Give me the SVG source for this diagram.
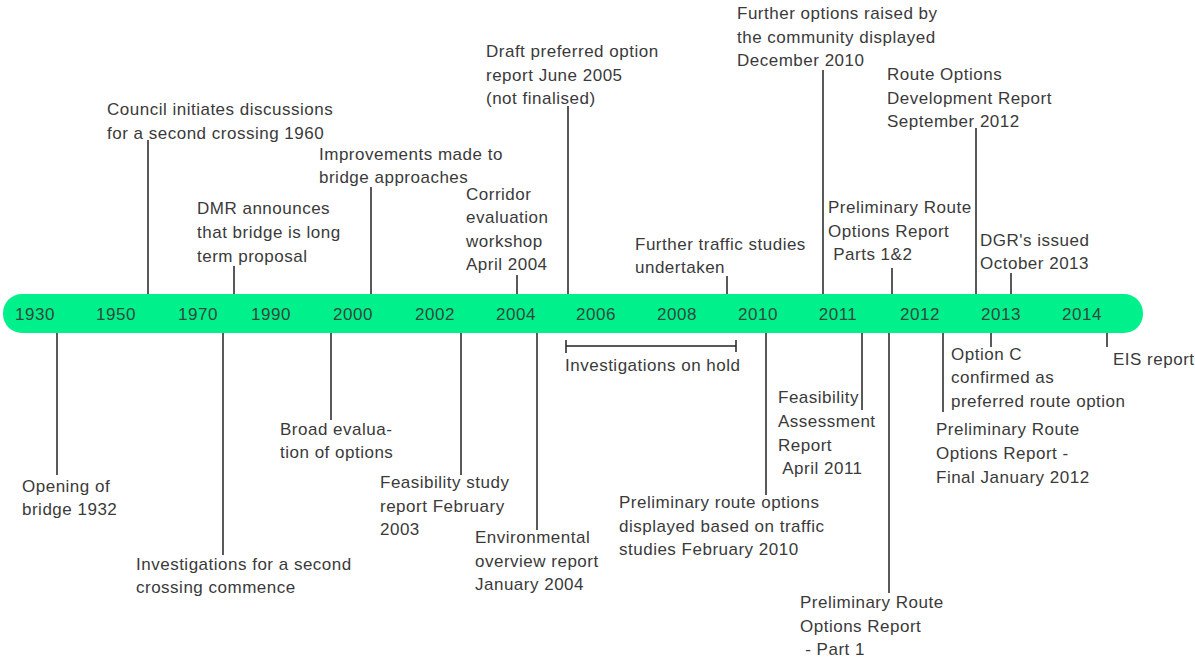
<svg xmlns="http://www.w3.org/2000/svg" width="1195" height="661" viewBox="0 0 1195 661">
<style>
text{font-family:"Liberation Sans",Arial,sans-serif;font-size:17px;letter-spacing:0.5px;fill:#3a3a3a}
.yr{fill:#2f4a3c}
.c line{stroke:#222;stroke-width:1.5}
</style>
<rect width="1195" height="661" fill="#fff"/>
<g id="timeline">
<rect x="3" y="294" width="1140" height="39" rx="19" fill="#00f08c"/>
<g class="yr-labels" text-anchor="middle">
<text class="yr" x="35" y="320">1930</text>
<text class="yr" x="116" y="320">1950</text>
<text class="yr" x="198" y="320">1970</text>
<text class="yr" x="271" y="320">1990</text>
<text class="yr" x="353" y="320">2000</text>
<text class="yr" x="435" y="320">2002</text>
<text class="yr" x="516" y="320">2004</text>
<text class="yr" x="596" y="320">2006</text>
<text class="yr" x="677" y="320">2008</text>
<text class="yr" x="758" y="320">2010</text>
<text class="yr" x="838" y="320">2011</text>
<text class="yr" x="920" y="320">2012</text>
<text class="yr" x="1001" y="320">2013</text>
<text class="yr" x="1082" y="320">2014</text>
</g>
</g>
<g id="connectors" class="c">
<line x1="148" y1="140" x2="148" y2="294"/>
<line x1="234" y1="266" x2="234" y2="294"/>
<line x1="371" y1="187" x2="371" y2="294"/>
<line x1="517" y1="275" x2="517" y2="294"/>
<line x1="568" y1="106" x2="568" y2="294"/>
<line x1="727" y1="276" x2="727" y2="294"/>
<line x1="823" y1="70" x2="823" y2="294"/>
<line x1="976" y1="128" x2="976" y2="294"/>
<line x1="892" y1="268" x2="892" y2="294"/>
<line x1="1011" y1="273" x2="1011" y2="294"/>
<line x1="57" y1="333" x2="57" y2="475"/>
<line x1="223" y1="333" x2="223" y2="555"/>
<line x1="331" y1="333" x2="331" y2="420"/>
<line x1="461" y1="333" x2="461" y2="475"/>
<line x1="537" y1="333" x2="537" y2="530"/>
<line x1="766" y1="333" x2="766" y2="495"/>
<line x1="862" y1="333" x2="862" y2="410"/>
<line x1="889" y1="333" x2="889" y2="593"/>
<line x1="943" y1="333" x2="943" y2="412"/>
<line x1="991" y1="333" x2="991" y2="347"/>
<line x1="1107" y1="333" x2="1107" y2="347"/>
<line x1="566" y1="346" x2="736" y2="346"/>
<line x1="566" y1="340" x2="566" y2="353"/>
<line x1="736" y1="340" x2="736" y2="352"/>
</g>
<g id="ev-council"><text x="107" y="115">Council initiates discussions</text><text x="107" y="139">for a second crossing 1960</text></g>
<g id="ev-dmr"><text x="197" y="214">DMR announces</text><text x="197" y="238">that bridge is long</text><text x="197" y="262">term proposal</text></g>
<g id="ev-improvements"><text x="319" y="160">Improvements made to</text><text x="319" y="183">bridge approaches</text></g>
<g id="ev-corridor"><text x="466" y="200">Corridor</text><text x="466" y="223">evaluation</text><text x="466" y="247">workshop</text><text x="466" y="270">April 2004</text></g>
<g id="ev-draft"><text x="486" y="57">Draft preferred option</text><text x="486" y="81">report June 2005</text><text x="486" y="104">(not finalised)</text></g>
<g id="ev-traffic"><text x="635" y="250">Further traffic studies</text><text x="635" y="273">undertaken</text></g>
<g id="ev-further-options"><text x="737" y="19">Further options raised by</text><text x="737" y="43">the community displayed</text><text x="737" y="66">December 2010</text></g>
<g id="ev-route-dev"><text x="887" y="80">Route Options</text><text x="887" y="104">Development Report</text><text x="887" y="127">September 2012</text></g>
<g id="ev-prelim-parts"><text x="828" y="213">Preliminary Route</text><text x="828" y="237">Options Report</text><text x="828" y="260" xml:space="preserve"> Parts 1&amp;2</text></g>
<g id="ev-dgr"><text x="980" y="246">DGR's issued</text><text x="980" y="269">October 2013</text></g>
<g id="ev-opening"><text x="22" y="492">Opening of</text><text x="22" y="515">bridge 1932</text></g>
<g id="ev-investigations"><text x="136" y="570">Investigations for a second</text><text x="136" y="593">crossing commence</text></g>
<g id="ev-broad"><text x="280" y="435">Broad evalua-</text><text x="280" y="458">tion of options</text></g>
<g id="ev-feasibility-study"><text x="380" y="488">Feasibility study</text><text x="380" y="512">report February</text><text x="380" y="535">2003</text></g>
<g id="ev-environmental"><text x="475" y="543">Environmental</text><text x="475" y="567">overview report</text><text x="475" y="590">January 2004</text></g>
<g id="ev-on-hold"><text x="565" y="371">Investigations on hold</text></g>
<g id="ev-prelim-display"><text x="619" y="508">Preliminary route options</text><text x="619" y="532">displayed based on traffic</text><text x="619" y="555">studies February 2010</text></g>
<g id="ev-feasibility-assessment"><text x="778" y="403">Feasibility</text><text x="778" y="427">Assessment</text><text x="778" y="451">Report</text><text x="778" y="474" xml:space="preserve"> April 2011</text></g>
<g id="ev-prelim-part1"><text x="800" y="608">Preliminary Route</text><text x="800" y="632">Options Report</text><text x="800" y="655" xml:space="preserve"> - Part 1</text></g>
<g id="ev-prelim-final"><text x="936" y="435">Preliminary Route</text><text x="936" y="459">Options Report -</text><text x="936" y="483">Final January 2012</text></g>
<g id="ev-option-c"><text x="951" y="360">Option C</text><text x="951" y="383">confirmed as</text><text x="951" y="407">preferred route option</text></g>
<g id="ev-eis"><text x="1113" y="365">EIS report</text></g>
</svg>
